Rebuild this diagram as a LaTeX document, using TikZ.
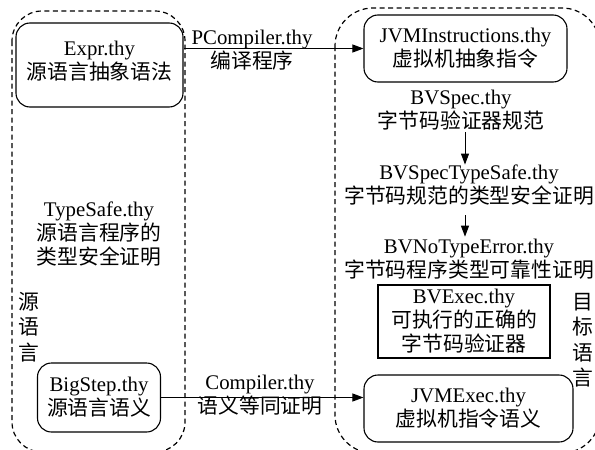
\documentclass[tikz,border=0pt]{standalone}
\usepackage{fontspec}
\setmainfont{Liberation Serif}
\newfontfamily\cjk{Noto Sans CJK SC}
\usetikzlibrary{arrows.meta}
\begin{document}
\begin{tikzpicture}[x=1pt,y=-1pt,
  every node/.style={font=\fontsize{20.8}{24}\selectfont, inner sep=0pt, align=center},
  rbox/.style={draw, line width=1.1pt, rounded corners=14pt},
  sbox/.style={draw, line width=1.1pt},
  region/.style={draw, dash pattern=on 5pt off 3.5pt, line width=1.2pt},
  vtext/.style={font=\fontsize{20.8}{25.5}\selectfont\cjk},
  arr/.style={-{Triangle[length=11pt,width=8pt]}, line width=1pt}]
\useasboundingbox (0,0) rectangle (595,450);
\clip (0,0) rectangle (595,450);
% regions
\draw[region, rounded corners=30pt] (12,11) rectangle (185,452);
\draw[region, rounded corners=38pt] (335,8) rectangle (600,453);
% boxes
\node[rbox, minimum width=167pt, minimum height=84pt] (expr) at (99.5,65) {};
\node (exprtext) at (99.5,61) {Expr.thy\\{\cjk 源语言抽象语法}};
\node[rbox, minimum width=203pt, minimum height=67pt] (jvmi) at (465.5,48.5) {JVMInstructions.thy\\{\cjk 虚拟机抽象指令}};
\node[sbox, minimum width=172pt, minimum height=73pt] (bvexec) at (464,321.5) {BVExec.thy\\{\cjk 可执行的正确的}\\{\cjk 字节码验证器}};
\node[rbox, minimum width=209pt, minimum height=67pt] (jvmexec) at (468.5,408.5) {JVMExec.thy\\{\cjk 虚拟机指令语义}};
\node[rbox, minimum width=123pt, minimum height=69pt] (bigstep) at (99,397.5) {BigStep.thy\\{\cjk 源语言语义}};
% plain texts
\node (bvspec) at (461,110) {BVSpec.thy\\{\cjk 字节码验证器规范}};
\node (bvsts) at (469,185) {BVSpecTypeSafe.thy\\{\cjk 字节码规范的类型安全证明}};
\node (bvnte) at (469,259) {BVNoTypeError.thy\\{\cjk 字节码程序类型可靠性证明}};
\node (ts) at (99,234) {TypeSafe.thy\\{\cjk 源语言程序的}\\{\cjk 类型安全证明}};
\node[vtext] (src) at (29,327) {源\\语\\言};
\node[vtext] (tgt) at (583,340) {目\\标\\语\\言};
% arrow labels
\node (pcl) at (252,50) {PCompiler.thy\\{\cjk 编译程序}};
\node (cl) at (260,395) {Compiler.thy\\{\cjk 语义等同证明}};
% connectors
\coordinate (ax) at (465,0);
\draw[arr] (expr.east |- jvmi.west) -- (jvmi.west);
\draw[arr] (bigstep.east) -- (bigstep.east -| jvmexec.west);
\draw[arr] ([yshift=-2pt]ax |- bvspec.south) -- (ax |- bvsts.north);
\draw[arr] ([yshift=-10pt]ax |- bvsts.south) -- ([yshift=2pt]ax |- bvnte.north);
\end{tikzpicture}
\end{document}
